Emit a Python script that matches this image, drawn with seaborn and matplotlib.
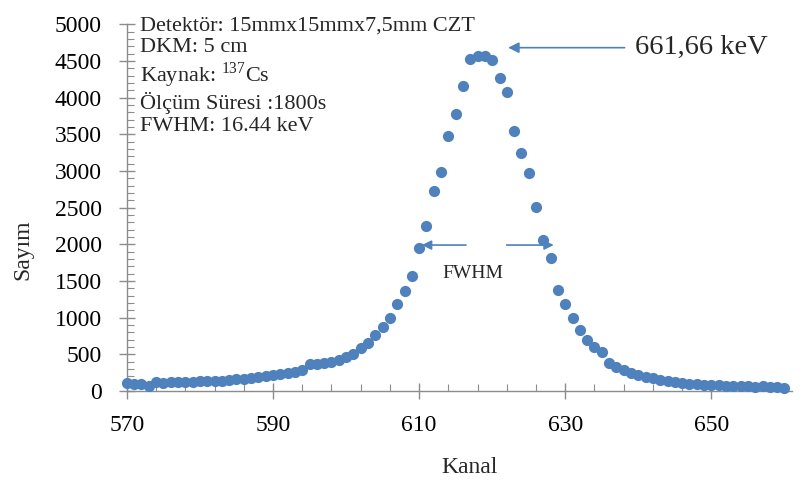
import numpy as np
import pandas as pd
import matplotlib
matplotlib.use("Agg")
import matplotlib.pyplot as plt
import seaborn as sns

# spectrum, one value per channel
kanal = list(range(570, 661))
sayim = [110, 100, 95, 75, 120, 115, 125, 125, 130, 130,
         135, 140, 140, 135, 150, 160, 165, 180, 195, 210,
         225, 230, 250, 265, 290, 370, 375, 385, 400, 430,
         460, 500, 590, 660, 760, 880, 1000, 1180, 1360, 1570,
         1950, 2250, 2720, 2990, 3480, 3770, 4160, 4530, 4570, 4570,
         4510, 4260, 4070, 3550, 3250, 2970, 2510, 2060, 1810, 1380,
         1190, 990, 830, 700, 600, 530, 380, 330, 290, 250,
         220, 195, 175, 155, 140, 125, 110, 100, 90, 85,
         80, 85, 70, 75, 65, 70, 60, 65, 55, 50,
         40]

x_ticks = [570, 590, 610, 630, 650]
y_ticks = list(range(0, 5001, 500))

info_lines = ["Detektör: 15mmx15mmx7,5mm CZT",
              "DKM: 5 cm",
              "Kaynak: $^{\\mathrm{137}}$Cs",
              "Ölçüm Süresi :1800s",
              "FWHM: 16.44 keV"]

df = pd.DataFrame({"Kanal": kanal, "Sayim": sayim})

sns.set_style("white")
plt.rcParams['font.family'] = ['Liberation Serif', 'DejaVu Serif']
plt.rcParams['mathtext.fontset'] = 'custom'
plt.rcParams['mathtext.rm'] = 'Liberation Serif'

blue = "#4F81BD"
grey = "#8c8c8c"

fig = plt.figure(figsize=(8.03, 4.84), dpi=100)
ax = fig.add_axes([0.158, 0.192, 0.828, 0.758])

sns.scatterplot(data=df, x="Kanal", y="Sayim", ax=ax, color=blue,
                s=65, edgecolor=None, linewidth=0, zorder=3, clip_on=False)

ax.set_xlim(570, 661)
ax.set_ylim(0, 5000)
ax.set_xticks(x_ticks)
ax.set_xticks(list(range(570, 662, 4)), minor=True)
ax.set_yticks(y_ticks)
ax.set_yticks(list(range(0, 5001, 100)), minor=True)

for side in ["top", "right"]:
    ax.spines[side].set_visible(False)
for side in ["left", "bottom"]:
    ax.spines[side].set_color(grey)
    ax.spines[side].set_linewidth(1)

ax.tick_params(axis="both", which="both", bottom=True, left=True)
ax.tick_params(axis="both", which="major", direction="inout", length=12,
               color=grey, width=1, labelsize=17, labelcolor="black")
ax.tick_params(axis="both", which="minor", direction="in", length=5,
               color=grey, width=0.8)
ax.tick_params(axis="y", which="major", pad=12)
ax.tick_params(axis="x", which="major", pad=11)

ax.set_xlabel("Kanal", fontsize=17)
ax.set_ylabel("Sayım", fontsize=17)
ax.xaxis.set_label_coords(0.516, -0.18)
ax.yaxis.set_label_coords(-0.14, 0.384)

# info block
ax.text(571.8, 5100, "\n".join(info_lines), fontsize=16, va="top", ha="left",
        linespacing=1.15, zorder=4)

# peak marker
ax.annotate("", xy=(621.8, 4680), xytext=(638.5, 4680),
            arrowprops=dict(arrowstyle="-|>", color=blue, lw=1.2,
                            mutation_scale=16))
ax.text(639.6, 4680, "661,66 keV", fontsize=20.5, va="center", ha="left")

# FWHM arrows
ax.annotate("", xy=(610.0, 1990), xytext=(616.8, 1990),
            arrowprops=dict(arrowstyle="-|>", color=blue, lw=1.2,
                            mutation_scale=14))
ax.annotate("", xy=(628.8, 1990), xytext=(621.6, 1990),
            arrowprops=dict(arrowstyle="-|>", color=blue, lw=1.2,
                            mutation_scale=14))
ax.text(617.3, 1600, "FWHM", fontsize=14, va="center", ha="center")

fig.savefig("out.png", dpi=100)
